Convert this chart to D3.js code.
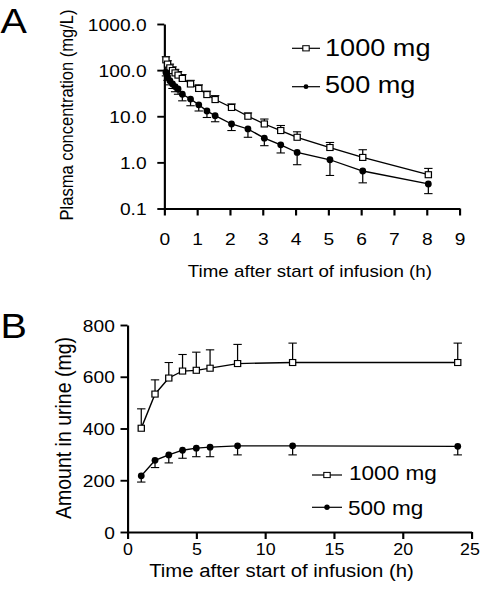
<!DOCTYPE html>
<html><head><meta charset="utf-8">
<script src="https://cdn.jsdelivr.net/npm/d3@7"></script>
<style>
html,body{margin:0;padding:0;background:#fff;}
svg{display:block;}
text{font-family:"Liberation Sans",Arial,Helvetica,sans-serif;fill:#000;}
</style></head>
<body>
<div id="chart"></div>
<script>
// ---------- DATA ----------
// Panel A: plasma concentration (mg/L) vs time (h)
const timesA = [0.05, 0.1, 0.17, 0.25, 0.33, 0.42, 0.55, 0.8, 1.05, 1.3, 1.55, 2.05, 2.55, 3.05, 3.55, 4.05, 5.05, 6.05, 8.05];
const plasma1000 = [167, 135, 112, 98, 87, 78, 66, 50, 40, 29.5, 23, 15.5, 10, 6.8, 4.9, 3.5, 2.1, 1.28, 0.54];
const plasma1000Upper = [195, 160, 135, 118, 104, 93, 80, 60, 48, 35, 28, 18.5, 11.8, 8.7, 6.3, 4.6, 2.7, 1.88, 0.74];
const plasma500 = [89, 72, 59, 50, 44, 39, 30, 23.6, 17.7, 13, 10.3, 6.8, 5.3, 3.35, 2.4, 1.64, 1.14, 0.65, 0.34];
const plasma500Lower = [75, 60, 48, 40, 34, 30, 21.6, 16.9, 13, 9.4, 7.6, 4.9, 3.5, 2.3, 1.6, 0.89, 0.52, 0.36, 0.21];
const ticksAx = [0, 1, 2, 3, 4, 5, 6, 7, 8, 9];
const ticksAy = [0.1, 1, 10, 100, 1000];

// Panel B: cumulative amount in urine (mg) vs time (h)
const timesB = [1, 2, 3, 4, 5, 6, 8, 12, 24];
const urine1000 = [401, 533, 595, 622, 625, 633, 651, 655, 655];
const urine1000Upper = [476, 588, 655, 686, 695, 704, 725, 730, 730];
const urine500 = [217, 277, 298, 316, 324, 328, 333, 333, 331];
const urine500Lower = [193, 249, 267, 285, 291, 291, 298, 298, 298];
const ticksBx = [0, 5, 10, 15, 20, 25];
const ticksBy = [0, 200, 400, 600, 800];

const seriesNames = ["1000 mg", "500 mg"];

// ---------- LAYOUT ----------
const S = 1.13;               // horizontal stretch of the original figure
const W = 480 / S, H = 592;
const sx = v => v / S;

const svg = d3.select("#chart").append("svg")
  .attr("width", 480).attr("height", H)
  .attr("viewBox", `0 0 ${W} ${H}`)
  .attr("preserveAspectRatio", "none");

function sqMarker(g, x, y) {
  g.append("rect").attr("x", x - sx(3.1)).attr("y", y - 3).attr("width", sx(6.2)).attr("height", 6)
    .attr("fill", "#fff").attr("stroke", "#000").attr("stroke-width", 1.1);
}
function dotMarker(g, x, y, r) {
  g.append("ellipse").attr("cx", x).attr("cy", y).attr("rx", sx(r)).attr("ry", r).attr("fill", "#000");
}

function drawPanel(o) {
  const g = svg.append("g");
  // axes
  const ax = g.append("g").attr("transform", `translate(0,${o.y.range()[0]})`)
    .call(d3.axisBottom(o.x).tickValues(o.xTicks).tickSize(7).tickSizeOuter(0).tickFormat(d3.format("d")));
  ax.selectAll("text").attr("y", o.xLabelY).attr("dy", 0).style("font-size", o.xTickFont + "px");
  if (o.lastTickDx) ax.selectAll(".tick:last-of-type text").attr("dx", o.lastTickDx);
  const ay = g.append("g").attr("transform", `translate(${o.x.range()[0]},0)`)
    .call(d3.axisLeft(o.y).tickValues(o.yTicks).tickSize(sx(7)).tickSizeOuter(0).tickPadding(o.yPad).tickFormat(o.yFormat));
  ay.selectAll("text").attr("dy", "0.36em").style("font-size", o.yTickFont + "px");
  [ax, ay].forEach(a => {
    a.select(".domain").attr("stroke", "#000").attr("stroke-width", 1.9);
    a.selectAll(".tick line").attr("stroke", "#000").attr("stroke-width", 1.9);
    a.attr("font-family", null);
  });

  // error bars
  const cap = sx(4.2);
  o.series.forEach(s => {
    o.times.forEach((t, i) => {
      const x = o.x(t), y0 = o.y(s.values[i]), y1 = o.y(s.bound[i]);
      g.append("line").attr("x1", x).attr("x2", x).attr("y1", y0).attr("y2", y1)
        .attr("stroke", "#000").attr("stroke-width", 1.1);
      g.append("line").attr("x1", x - cap).attr("x2", x + cap).attr("y1", y1).attr("y2", y1)
        .attr("stroke", "#000").attr("stroke-width", 1.1);
    });
  });
  // lines
  const line = d3.line().x(d => o.x(d[0])).y(d => o.y(d[1]));
  o.series.forEach(s => {
    g.append("path").datum(o.times.map((t, i) => [t, s.values[i]]))
      .attr("d", line).attr("fill", "none").attr("stroke", "#000").attr("stroke-width", 1.3);
  });
  // markers
  o.series.forEach(s => {
    o.times.forEach((t, i) => {
      if (s.kind === "sq") sqMarker(g, o.x(t), o.y(s.values[i]));
      else dotMarker(g, o.x(t), o.y(s.values[i]), 3.4);
    });
  });

  // axis titles
  g.append("text").attr("x", (o.x.range()[0] + o.x.range()[1]) / 2 + o.xTitleDx).attr("y", o.xTitleY)
    .attr("text-anchor", "middle").style("font-size", o.xTitleFont + "px").text("Time after start of infusion (h)");
  g.append("text").attr("transform", `translate(${sx(o.yTitleX)},${o.yTitleY}) rotate(-90)`)
    .attr("text-anchor", "middle").style("font-size", o.yTitleFont + "px").text(o.yTitle);
  // panel letter
  g.append("text").attr("x", sx(0.5)).attr("y", o.letterY).style("font-size", "35px").text(o.letter);

  // legend
  o.legend.forEach((L, i) => {
    g.append("line").attr("x1", sx(L.x1)).attr("x2", sx(L.x2)).attr("y1", L.ly).attr("y2", L.ly)
      .attr("stroke", "#000").attr("stroke-width", 1.2);
    const cx = sx((L.x1 + L.x2) / 2);
    if (o.series[i].kind === "sq") {
      g.append("rect").attr("x", cx - sx(3.2)).attr("y", L.ly - 2.6).attr("width", sx(6.4)).attr("height", 5.2)
        .attr("fill", "#fff").attr("stroke", "#000").attr("stroke-width", 1);
    } else dotMarker(g, cx, L.ly, L.r);
    g.append("text").attr("x", sx(L.tx)).attr("y", L.ty).style("font-size", o.legendFont + "px").text(seriesNames[i]);
  });
}

// Panel A
drawPanel({
  x: d3.scaleLinear().domain([0, 9]).range([sx(164.3), sx(459.5)]),
  y: d3.scaleLog().domain([0.1, 1000]).range([208.5, 24]),
  xTicks: ticksAx, yTicks: ticksAy, yFormat: d3.format(".1f"),
  xTickFont: 17, yTickFont: 17, xLabelY: 36.5, yPad: 9.5,
  times: timesA,
  series: [
    { kind: "sq", values: plasma1000, bound: plasma1000Upper },
    { kind: "dot", values: plasma500, bound: plasma500Lower }
  ],
  xTitleY: 277, xTitleDx: sx(-2), xTitleFont: 16.6,
  yTitle: "Plasma concentration (mg/L)", yTitleX: 72.5, yTitleY: 115, yTitleFont: 16.5,
  letter: "A", letterY: 33,
  legendFont: 24,
  legend: [
    { x1: 292, x2: 320, ly: 48.3, tx: 325, ty: 55.7, r: 2.4 },
    { x1: 292, x2: 320, ly: 86.7, tx: 325, ty: 93.3, r: 2.4 }
  ]
});

// Panel B
drawPanel({
  x: d3.scaleLinear().domain([0, 25]).range([sx(127.5), sx(471.5)]),
  y: d3.scaleLinear().domain([0, 800]).range([532, 325]),
  xTicks: ticksBx, yTicks: ticksBy, yFormat: d3.format("d"),
  xTickFont: 15.8, yTickFont: 17, xLabelY: 23, yPad: 5, lastTickDx: -1.8,
  times: timesB,
  series: [
    { kind: "sq", values: urine1000, bound: urine1000Upper },
    { kind: "dot", values: urine500, bound: urine500Lower }
  ],
  xTitleY: 577, xTitleDx: sx(-18), xTitleFont: 18,
  yTitle: "Amount in urine (mg)", yTitleX: 70.5, yTitleY: 428, yTitleFont: 19.5,
  letter: "B", letterY: 338,
  legendFont: 20,
  legend: [
    { x1: 312, x2: 342, ly: 475, tx: 349, ty: 480, r: 2.7 },
    { x1: 312, x2: 342, ly: 507.3, tx: 348, ty: 515, r: 2.7 }
  ]
});
</script>
</body></html>
